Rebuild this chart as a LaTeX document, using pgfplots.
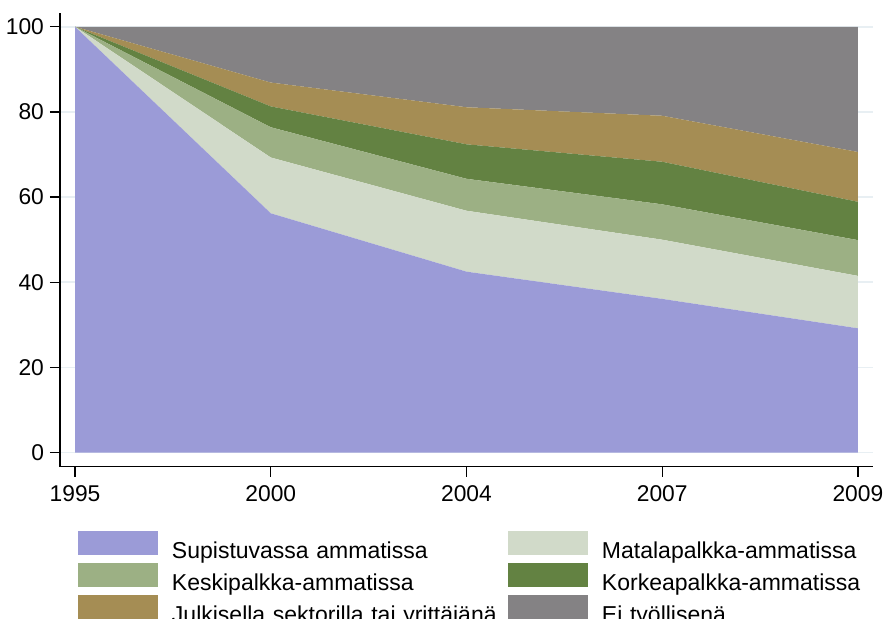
\documentclass[border=0pt]{standalone}
\usepackage{fontspec}
\setmainfont{Liberation Sans}
\usepackage{pgfplots}
\pgfplotsset{compat=1.18}
\definecolor{cS}{RGB}{155,155,215}
\definecolor{cM}{RGB}{209,218,201}
\definecolor{cK}{RGB}{156,176,132}
\definecolor{cKo}{RGB}{99,130,66}
\definecolor{cJ}{RGB}{165,141,84}
\definecolor{cE}{RGB}{132,130,132}
\definecolor{gridc}{RGB}{232,239,243}
\begin{document}
\begin{tikzpicture}
\begin{axis}[
  scale only axis, width=406.5pt, height=227pt,
  xmin=-0.077, xmax=4.077, ymin=-3.3, ymax=103.3,
  axis x line*=bottom, axis y line*=left,
  xtick={0,1,2,3,4}, xticklabels={1995,2000,2004,2007,2009},
  ytick={0,20,40,60,80,100},
  tick align=outside, major tick length=5pt,
  tick style={black, line width=0.7pt},
  axis line style={black, line width=0.7pt},
  ymajorgrids, major grid style={color=gridc, line width=0.8pt},
  stack plots=y, area style, axis on top=false,
  /pgf/number format/assume math mode=true,
  ticklabel style={font=\fontsize{11.4}{13}\selectfont},
  yticklabel style={xshift=0.5pt},
  xticklabel style={yshift=-0.8pt},
  legend columns=2,
  legend cell align=left,
  legend style={at={(0,0)}, anchor=north west, xshift=9pt, yshift=-32.15pt,
    draw=none, fill=none, inner sep=0pt, outer sep=0pt,
    row sep=0pt, column sep=0pt,
    font=\fontsize{11.5}{13}\selectfont,
    nodes={inner sep=0pt, outer sep=0pt, text width=168pt, align=left, text height=8.5pt, text depth=2.5pt}},
  legend image code/.code={\fill[#1] (0pt,-1.5pt) rectangle (40pt,10.5pt); \path (47pt,0pt);},
]
\addplot[fill=cS, draw=none] coordinates {(0,100) (1,56.2) (2,42.5) (3,36.1) (4,29.2)} \closedcycle;
\addplot[fill=cM, draw=none] coordinates {(0,0) (1,13.1) (2,14.3) (3,13.9) (4,12.3)} \closedcycle;
\addplot[fill=cK, draw=none] coordinates {(0,0) (1,7.1) (2,7.5) (3,8.3) (4,8.4)} \closedcycle;
\addplot[fill=cKo, draw=none] coordinates {(0,0) (1,4.9) (2,8.1) (3,10.0) (4,9.0)} \closedcycle;
\addplot[fill=cJ, draw=none] coordinates {(0,0) (1,5.6) (2,8.7) (3,10.8) (4,11.7)} \closedcycle;
\addplot[fill=cE, draw=none] coordinates {(0,0) (1,13.1) (2,18.9) (3,20.9) (4,29.4)} \closedcycle;
\legend{Supistuvassa ammatissa, Matalapalkka-ammatissa, Keskipalkka-ammatissa, Korkeapalkka-ammatissa, Julkisella sektorilla tai yrittäjänä, Ei työllisenä}
\end{axis}
\pgfresetboundingbox
\path[use as bounding box] ([xshift=-30pt,yshift=-75.65pt]current axis.south west) rectangle ([xshift=6.5pt,yshift=6.35pt]current axis.north east);
\end{tikzpicture}
\end{document}
